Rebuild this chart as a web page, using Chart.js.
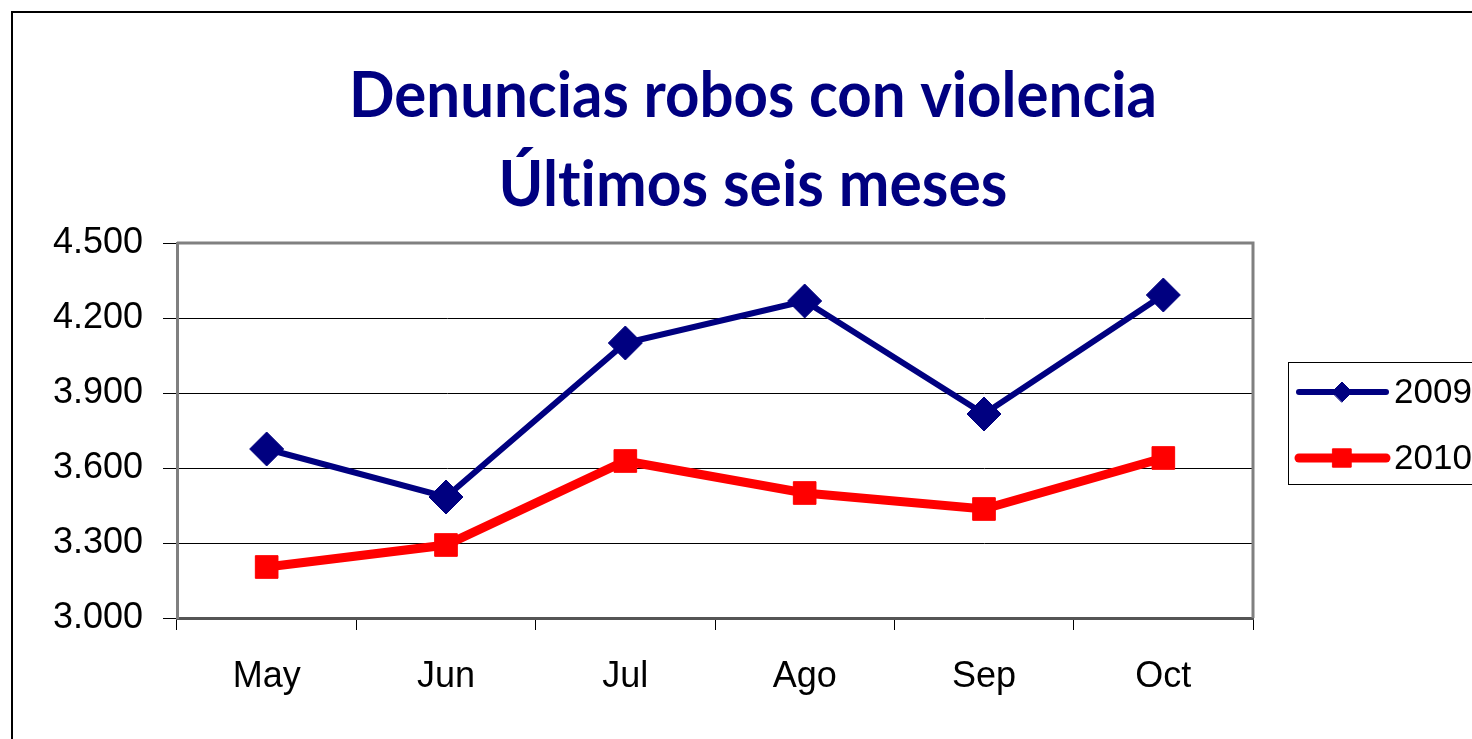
<!DOCTYPE html>
<html>
<head>
<meta charset="utf-8">
<script src="https://cdn.jsdelivr.net/npm/chart.js@4"></script>
<style>
  html, body { margin: 0; padding: 0; background: #fff; }
  #wrap { width: 1472px; height: 739px; }
</style>
</head>
<body>
<div id="wrap"><canvas id="chart" width="1472" height="739"></canvas></div>
<script>
const months = ["May", "Jun", "Jul", "Ago", "Sep", "Oct"];
const y2009 = [3676, 3484, 4100, 4268, 3816, 4292];
const y2010 = [3204, 3292, 3628, 3500, 3436, 3640];
const titleLines = ["Denuncias robos con violencia", "Últimos seis meses"];
const seriesNames = ["2009", "2010"];

const NAVY = "#000080";
const RED = "#ff0000";

function fmt(v) {
  // 4500 -> 4.500
  return String(v).replace(/\B(?=(\d{3})+(?!\d))/g, ".");
}

// frame, title, plot border, legend
const decor = {
  id: "decor",
  beforeDraw(chart) {
    const ctx = chart.ctx;
    ctx.save();
    ctx.strokeStyle = "#000";
    ctx.lineWidth = 2;
    ctx.strokeRect(12, 12, 3000, 3000);

    // title
    ctx.fillStyle = NAVY;
    ctx.font = "bold 64px Lato";
    ctx.letterSpacing = "0.01px"; // keeps "ti" from becoming a ligature
    ctx.textAlign = "center";
    ctx.textBaseline = "alphabetic";
    const widths = [808, 509];
    const baselines = [117, 206];
    titleLines.forEach((t, i) => {
      const w = ctx.measureText(t).width;
      ctx.save();
      ctx.translate(753, baselines[i]);
      ctx.scale(widths[i] / w, 1);
      ctx.fillText(t, 0, 0);
      ctx.restore();
    });
    ctx.restore();
  },
  afterDraw(chart) {
    const ctx = chart.ctx;
    const a = chart.chartArea;
    ctx.save();
    // top + right border of plot area
    ctx.strokeStyle = "#808080";
    ctx.lineWidth = 3;
    ctx.beginPath();
    ctx.moveTo(a.left, a.top);
    ctx.lineTo(a.right, a.top);
    ctx.lineTo(a.right, a.bottom);
    ctx.stroke();

    // legend
    ctx.strokeStyle = "#000";
    ctx.lineWidth = 1;
    ctx.strokeRect(1288.5, 362.5, 300, 122);
    const rows = [
      { y: 392, color: NAVY, lw: 6, style: "rectRot", r: 10 },
      { y: 458, color: RED, lw: 9, style: "rect", r: 13 }
    ];
    rows.forEach((row, i) => {
      ctx.strokeStyle = row.color;
      ctx.lineWidth = row.lw;
      ctx.lineCap = "round";
      ctx.beginPath();
      ctx.moveTo(1299, row.y);
      ctx.lineTo(1386, row.y);
      ctx.stroke();
      ctx.fillStyle = row.color;
      ctx.lineWidth = 1;
      Chart.helpers.drawPoint(ctx, { pointStyle: row.style, radius: row.r, borderWidth: 1 }, 1342, row.y);
      ctx.fillStyle = "#000";
      ctx.font = "35px 'Liberation Sans', Arial";
      ctx.textAlign = "left";
      ctx.textBaseline = "middle";
      ctx.fillText(seriesNames[i], 1394, row.y + 1);
    });
    ctx.restore();
  }
};

new Chart(document.getElementById("chart"), {
  type: "line",
  data: {
    labels: months,
    datasets: [
      {
        label: seriesNames[0],
        data: y2009,
        borderColor: NAVY,
        backgroundColor: NAVY,
        borderWidth: 6,
        pointStyle: "rectRot",
        pointRadius: 17,
        pointBorderWidth: 1,
        tension: 0
      },
      {
        label: seriesNames[1],
        data: y2010,
        borderColor: RED,
        backgroundColor: RED,
        borderWidth: 9,
        pointStyle: "rect",
        pointRadius: 16,
        pointBorderWidth: 1,
        tension: 0
      }
    ]
  },
  options: {
    responsive: false,
    animation: false,
    layout: { padding: { top: 243, right: 219, left: 0, bottom: 0 } },
    plugins: {
      legend: { display: false },
      title: { display: false },
      tooltip: { enabled: false }
    },
    scales: {
      x: {
        offset: true,
        grid: {
          offset: true,
          drawOnChartArea: false,
          drawTicks: true,
          tickLength: 12,
          color: "#000",
          lineWidth: 1
        },
        border: { color: "#555", width: 3 },
        ticks: {
          color: "#000",
          font: { family: "'Liberation Sans', Arial", size: 36 },
          padding: 25
        },
        afterFit(scale) { scale.height = 121; }
      },
      y: {
        min: 3000,
        max: 4500,
        grid: {
          color: "#000",
          lineWidth: 1,
          drawTicks: true,
          tickLength: 14
        },
        border: { color: "#808080", width: 3 },
        ticks: {
          stepSize: 300,
          color: "#000",
          font: { family: "'Liberation Sans', Arial", size: 36 },
          padding: 20,
          callback: (v) => fmt(v)
        },
        afterFit(scale) { scale.width = 177; }
      }
    }
  },
  plugins: [decor]
});
</script>
</body>
</html>
